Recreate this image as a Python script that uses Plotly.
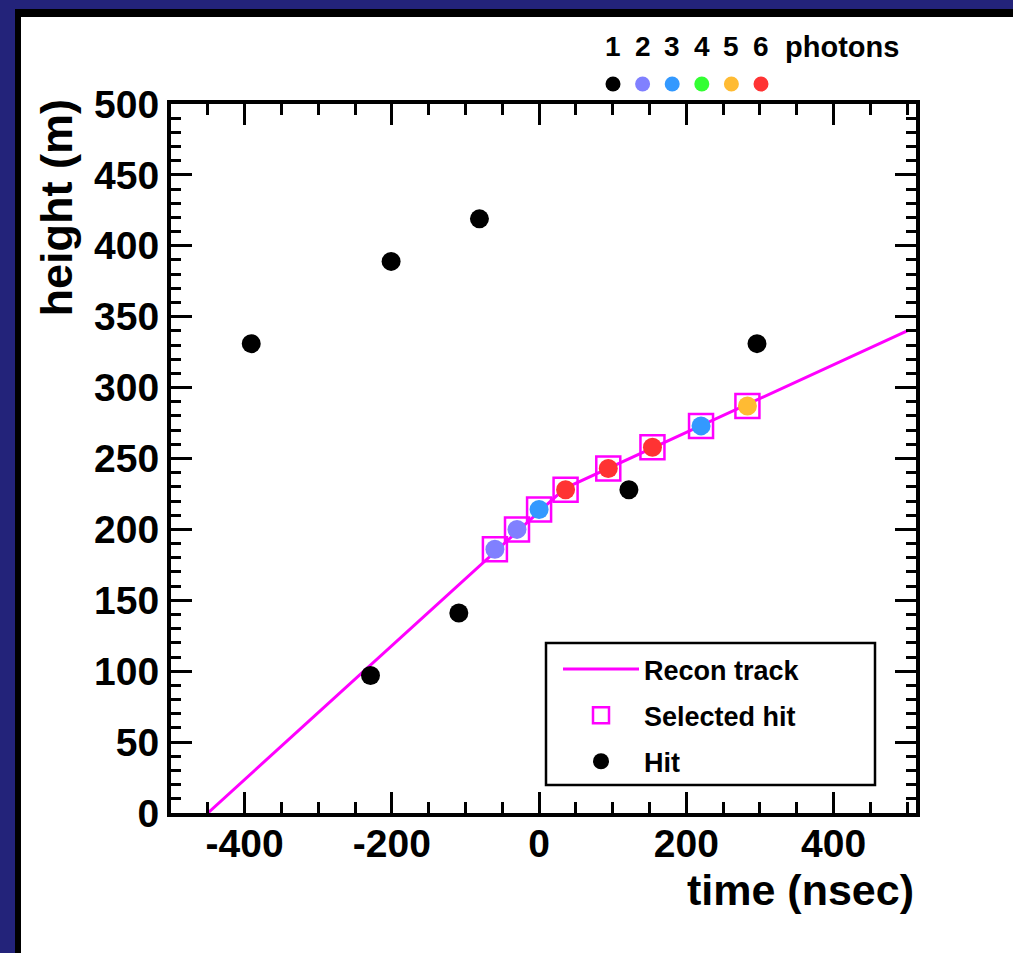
import plotly.graph_objects as go

# ---------------- data ----------------
hit_time = [-391, -201, -81, -229, -109, 122, 296, -60, -30, 0, 36, 94, 154, 220, 283]
hit_height = [331, 389, 419, 97, 141, 228, 331, 186, 200, 214, 228, 243, 258, 273, 287]
hit_photons = [1, 1, 1, 1, 1, 1, 1, 2, 2, 3, 6, 6, 6, 3, 5]

selected_time = [-60, -30, 0, 36, 94, 154, 220, 283]
selected_height = [186, 200, 214, 228, 243, 258, 273, 287]

track_time = [-450, 35, 500]
track_height = [0, 229, 340]

photon_counts = ["1", "2", "3", "4", "5", "6"]
photon_colors = ["#000000", "#8080ff", "#3399ff", "#33ff33", "#ffbb33", "#ff3333"]

x_ticks = [-400, -200, 0, 200, 400]
y_ticks = [0, 50, 100, 150, 200, 250, 300, 350, 400, 450, 500]

# ---------------- layout geometry (pixels) ----------------
W, H = 1013, 953
PL, PR, PT, PB = 171, 916, 104, 813


def px_x(p):
    return (p - PL) / (PR - PL)


def px_y(p):
    return (PB - p) / (PB - PT)


FONT = "Liberation Sans, Arial, Helvetica, sans-serif"
NAVY = "#23237a"

fig = go.Figure()

fig.add_trace(go.Scatter(
    x=track_time, y=track_height, mode="lines", name="Recon track",
    line=dict(color="#ff00ff", width=3), legendgroup="a",
))
fig.add_trace(go.Scatter(
    x=selected_time, y=selected_height, mode="markers", name="Selected hit",
    marker=dict(symbol="square-open", size=24, color="#ff00ff", line=dict(width=2.5, color="#ff00ff")),
    legendgroup="b",
))
fig.add_trace(go.Scatter(
    x=hit_time, y=hit_height, mode="markers", name="Hit",
    marker=dict(symbol="circle", size=19, color=[photon_colors[n - 1] for n in hit_photons],
                line=dict(width=0)),
    legendgroup="c",
))

axis_common = dict(
    showgrid=False, zeroline=False, showline=True, linecolor="black", linewidth=4,
    mirror="allticks", ticks="inside", tickcolor="black", tickwidth=3, ticklen=21,
    tickfont=dict(family=FONT, size=39, color="black", weight="bold"),
)

fig.update_xaxes(
    range=[-500, 512], tickvals=x_ticks, ticktext=[str(v) for v in x_ticks],
    minor=dict(dtick=50, tick0=0, ticks="inside", ticklen=11, tickwidth=3, tickcolor="black"),
    ticklabelstandoff=-7,
    **axis_common,
)
fig.update_yaxes(
    range=[0, 500], tickvals=y_ticks, ticktext=[str(v) for v in y_ticks],
    minor=dict(dtick=10, tick0=0, ticks="inside", ticklen=10, tickwidth=3, tickcolor="black"),
    **axis_common,
)

shapes = [
    # slide background: navy strips on the left and top, black frame, white panel
    dict(type="rect", xref="paper", yref="paper", x0=px_x(-20), x1=px_x(15),
         y0=px_y(1000), y1=px_y(-20), fillcolor=NAVY, line=dict(width=0), layer="below"),
    dict(type="rect", xref="paper", yref="paper", x0=px_x(-20), x1=px_x(1040),
         y0=px_y(9), y1=px_y(-20), fillcolor=NAVY, line=dict(width=0), layer="below"),
    dict(type="rect", xref="paper", yref="paper", x0=px_x(15), x1=px_x(21),
         y0=px_y(1000), y1=px_y(9), fillcolor="black", line=dict(width=0), layer="below"),
    dict(type="rect", xref="paper", yref="paper", x0=px_x(15), x1=px_x(1040),
         y0=px_y(17), y1=px_y(9), fillcolor="black", line=dict(width=0), layer="below"),
    dict(type="rect", xref="paper", yref="paper", x0=px_x(990), x1=px_x(1040),
         y0=px_y(1000), y1=px_y(17), fillcolor="white", line=dict(width=0), layer="below"),
    # legend frame
    dict(type="rect", xref="paper", yref="paper", x0=px_x(546), x1=px_x(875),
         y0=px_y(785), y1=px_y(643), fillcolor="white", line=dict(width=2.5, color="black"),
         layer="above"),
]

annotations = [
    dict(text="time (nsec)", xref="paper", yref="paper", x=px_x(916), y=px_y(890),
         xanchor="right", yanchor="middle", showarrow=False,
         font=dict(family=FONT, size=43, color="black", weight="bold")),
    dict(text="height (m)", xref="paper", yref="paper", x=px_x(56), y=px_y(98),
         xanchor="center", yanchor="top", textangle=-90, showarrow=False,
         font=dict(family=FONT, size=45, color="black", weight="bold")),
    dict(text="photons", xref="paper", yref="paper", x=px_x(783), y=px_y(47),
         xanchor="left", yanchor="middle", showarrow=False,
         font=dict(family=FONT, size=29, color="black", weight="bold")),
]

dot_x0, dot_step, dot_y = 613, 29.6, 84
r = 7.5
for i, (lab, col) in enumerate(zip(photon_counts, photon_colors)):
    cx = dot_x0 + i * dot_step
    annotations.append(dict(text=lab, xref="paper", yref="paper", x=px_x(cx), y=px_y(47),
                            xanchor="center", yanchor="middle", showarrow=False,
                            font=dict(family=FONT, size=28, color="black", weight="bold")))
    shapes.append(dict(type="circle", xref="paper", yref="paper",
                       x0=px_x(cx - r), x1=px_x(cx + r), y0=px_y(dot_y + r), y1=px_y(dot_y - r),
                       fillcolor=col, line=dict(width=0)))

fig.update_layout(
    width=W, height=H,
    margin=dict(l=PL, r=W - PR, t=PT, b=H - PB, pad=0),
    paper_bgcolor="white", plot_bgcolor="white",
    shapes=shapes, annotations=annotations,
    showlegend=True,
    legend=dict(
        x=px_x(558), y=px_y(645), xanchor="left", yanchor="top",
        bgcolor="rgba(0,0,0,0)", borderwidth=0,
        font=dict(family=FONT, size=27, color="black", weight="bold"),
        tracegroupgap=8, itemwidth=76,
    ),
)

fig.write_html(
    "out.html", config={"displayModeBar": False},
    post_script=("document.documentElement.style.background='white';"
                 "document.body.style.background='white';"
                 "document.body.style.margin='0';document.body.style.overflow='hidden';"),
)
